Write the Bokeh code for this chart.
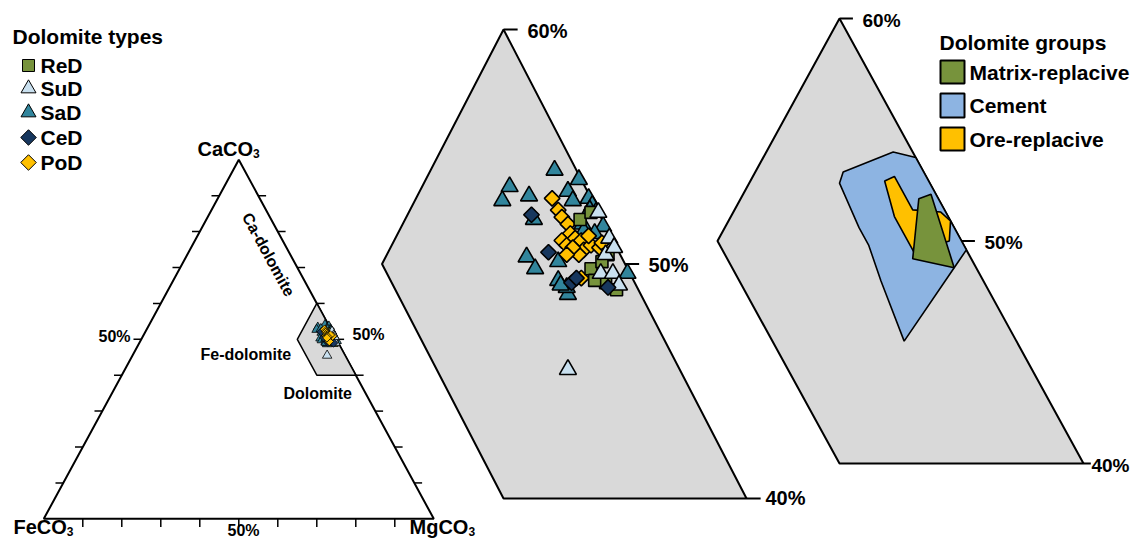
import math
from bokeh.plotting import figure
from bokeh.models import Range1d
from bokeh.core.properties import value
from bokeh.embed import file_html
from bokeh.resources import INLINE

# ---------------- data: compositions in % (CaCO3, MgCO3; FeCO3 = 100 - Ca - Mg)
type_names = ["ReD", "SuD", "SaD", "CeD", "PoD"]
red_ca = [51.9, 52.2, 49.8, 50.4, 49.2, 48.9, 49.3, 50.1]
red_mg = [47.2, 47.5, 48.7, 49.1, 49.6, 50.2, 49.1, 49.0]
sud_ca = [52.2, 51.1, 50.4, 49.6, 49.6, 49.1, 45.5, 50.7]
sud_mg = [47.8, 48.8, 49.0, 49.2, 49.7, 50.2, 49.9, 49.2]
sad_ca = [54.0, 53.3, 52.7, 52.9, 53.1, 53.6, 52.7, 52.8, 52.5, 52.2, 51.9, 50.3,
          49.8, 50.1, 49.3, 48.7, 51.7, 52.3, 51.6, 49.6, 49.0, 51.4, 51.3, 49.1]
sad_mg = [45.1, 43.6, 43.6, 44.6, 46.1, 46.3, 46.5, 47.1, 47.4, 47.7, 45.3, 45.8,
          46.4, 47.2, 47.6, 48.3, 47.4, 47.4, 48.3, 50.3, 48.1, 47.6, 48.1, 47.8]
ced_ca = [52.1, 50.5, 49.2, 49.0, 49.4]
ced_mg = [45.1, 46.6, 48.2, 49.8, 48.3]
pod_ca = [52.8, 52.3, 52.0, 51.7, 51.3, 51.0, 50.8, 51.1, 51.0, 50.6, 50.4, 50.8,
          50.7, 50.9, 49.4, 51.2, 50.7, 50.4]
pod_mg = [45.6, 46.1, 46.4, 46.8, 47.1, 46.9, 47.2, 47.4, 47.7, 48.0, 47.9, 48.2,
          48.6, 48.6, 48.5, 47.9, 47.5, 47.4]

group_names = ["Matrix-replacive", "Cement", "Ore-replacive"]
matrix_ca = [51.9, 52.1, 48.8, 49.2]
matrix_mg = [47.3, 47.7, 50.3, 48.4]
cement_ca = [53.1, 54.0, 53.75, 49.6, 48.8, 45.5, 48.2, 49.8, 50.6, 52.6]
cement_mg = [43.6, 45.2, 46.25, 50.4, 50.3, 49.9, 47.6, 46.3, 45.5, 43.7]
ore_ca = [52.7, 52.9, 51.4, 51.3, 50.9, 50.0, 49.5, 51.1]
ore_mg = [45.5, 45.8, 47.3, 48.5, 49.1, 49.5, 48.3, 46.7]

# dolomite field (zoomed area)
field_ca = [60, 50, 40, 40]
field_mg = [40, 40, 50, 60]
edge_ticks = [10, 20, 30, 40, 50, 60, 70, 80, 90]
zoom_ticks = [60, 50, 40]
zoom_tick_labels = ["60%", "50%", "40%"]


def tx(ca, mg):
    return [m + c / 2.0 for c, m in zip(ca, mg)]


def ty(ca):
    return [float(c) for c in ca]


FONT = value("Liberation Sans")
GRAY = "#D9D9D9"
colors = {"ReD": "#77933C", "SuD": "#C9E0EF", "SaD": "#31859C", "CeD": "#17375E", "PoD": "#FFC000"}
markers = {"ReD": ("square", 0.0), "SuD": ("triangle", 0.0), "SaD": ("triangle", 0.0),
           "CeD": ("square", math.pi / 4), "PoD": ("square", math.pi / 4)}
size_big = {"square": 12, "triangle": 17}
size_small = {"square": 6.5, "triangle": 9.5}
diamond_big, diamond_small = 11, 6
series = {"ReD": (red_ca, red_mg), "SuD": (sud_ca, sud_mg), "SaD": (sad_ca, sad_mg),
          "CeD": (ced_ca, ced_mg), "PoD": (pod_ca, pod_mg)}
group_colors = {"Matrix-replacive": "#77933C", "Cement": "#8DB4E2", "Ore-replacive": "#FFC000"}
groups = {"Matrix-replacive": (matrix_ca, matrix_mg), "Cement": (cement_ca, cement_mg),
          "Ore-replacive": (ore_ca, ore_mg)}

p = figure(width=1130, height=540, x_range=Range1d(-11.10, 278.64), y_range=Range1d(-6.04, 144.38),
           output_backend="svg", toolbar_location=None, min_border=0,
           x_axis_location=None, y_axis_location=None)
p.grid.visible = False
p.outline_line_color = None
p.background_fill_color = "white"
p.border_fill_color = "white"
p.extra_x_ranges = {"mid": Range1d(49.30, 95.80), "rt": Range1d(35.615, 81.926), "px": Range1d(0, 1130)}
p.extra_y_ranges = {"mid": Range1d(38.209, 61.237), "rt": Range1d(36.539, 60.809), "px": Range1d(540, 0)}

# ---------------- left: full ternary
p.patch(tx([100, 0, 0], [0, 0, 100]), ty([100, 0, 0]), fill_color=None, line_color="black", line_width=2)
p.patch(tx(field_ca, field_mg), ty(field_ca), fill_color=GRAY, line_color="black", line_width=1.5)
bx = tx([0] * 9, edge_ticks)
p.segment(x0=bx, y0=[0] * 9, x1=bx, y1=[-2.3] * 9, line_color="black", line_width=1.5)
lx = tx(edge_ticks, [0] * 9)
p.segment(x0=lx, y0=ty(edge_ticks), x1=[v - 2.0 for v in lx], y1=ty(edge_ticks), line_color="black", line_width=1.5)
rx = tx(edge_ticks, [100 - c for c in edge_ticks])
p.segment(x0=rx, y0=ty(edge_ticks), x1=[v + 2.0 for v in rx], y1=ty(edge_ticks), line_color="black", line_width=1.5)

order_left = ["SaD", "ReD", "SuD", "CeD", "PoD"]
for name in order_left:
    ca, mg = series[name]
    mk, ang = markers[name]
    sz = diamond_small if ang else size_small[mk]
    p.scatter(tx(ca, mg), ty(ca), marker=mk, angle=ang, size=sz, fill_color=colors[name],
              line_color="black", line_width=0.8)

# ---------------- middle: zoomed field with samples
p.patch(tx(field_ca, field_mg), ty(field_ca), fill_color=GRAY, line_color="black", line_width=2,
        x_range_name="mid", y_range_name="mid")
order_mid = ["SaD", "PoD", "ReD", "SuD", "CeD"]
for name in order_mid:
    ca, mg = series[name]
    mk, ang = markers[name]
    sz = diamond_big if ang else size_big[mk]
    p.scatter(tx(ca, mg), ty(ca), marker=mk, angle=ang, size=sz, fill_color=colors[name],
              line_color="black", line_width=1.6, x_range_name="mid", y_range_name="mid")

# ---------------- right: zoomed field with group envelopes
p.patch(tx(field_ca, field_mg), ty(field_ca), fill_color=GRAY, line_color="black", line_width=2,
        x_range_name="rt", y_range_name="rt")
for name in ["Cement", "Ore-replacive", "Matrix-replacive"]:
    ca, mg = groups[name]
    p.patch(tx(ca, mg), ty(ca), fill_color=group_colors[name], line_color="black", line_width=1.6,
            x_range_name="rt", y_range_name="rt")

# ticks of zoomed panels (on the Ca-Mg edge)
zx = tx(zoom_ticks, [100 - c for c in zoom_ticks])
mid_len = [0.58, 0.58, 0.58]
rt_len = [0.55, 0.55, 0.3]
p.segment(x0=zx, y0=ty(zoom_ticks), x1=[v + d for v, d in zip(zx, mid_len)], y1=ty(zoom_ticks),
          line_color="black", line_width=2, x_range_name="mid", y_range_name="mid")
p.segment(x0=zx, y0=ty(zoom_ticks), x1=[v + d for v, d in zip(zx, rt_len)], y1=ty(zoom_ticks),
          line_color="black", line_width=2, x_range_name="rt", y_range_name="rt")


# ---------------- texts (picture-pixel placement)
def txt(x, y, s, size, align="left", angle=0.0):
    p.text(x=[x], y=[y], text=[s], angle=angle, text_font=FONT, text_font_style="bold",
           text_font_size=f"{size}px", text_align=align, text_baseline="middle",
           text_color="black", x_range_name="px", y_range_name="px")


# left legend
txt(12, 36, "Dolomite  types", 21)
leg_y = [65, 88, 112, 137, 162]
for name, yy in zip(type_names, leg_y):
    mk, ang = markers[name]
    sz = 11 if ang else (12 if mk == "square" else 15)
    p.scatter([28], [yy], marker=mk, angle=ang, size=sz, fill_color=colors[name], line_color="black",
              line_width=1, x_range_name="px", y_range_name="px")
    txt(40, yy, name, 21)

# vertex labels with subscripts
lab_x = [197, 13, 409]
lab_y = [148, 526, 526]
sub_w = {"CaCO": 55.6, "FeCO": 53.3, "MgCO": 58.9}
for name, xx, yy in zip(["CaCO", "FeCO", "MgCO"], lab_x, lab_y):
    txt(xx, yy, name, 20)
    txt(xx + sub_w[name], yy + 5, "3", 12)

txt(130, 336, "50%", 16, align="right")
txt(243, 530, "50%", 16, align="center")
txt(352, 334, "50%", 16)
txt(268, 254, "Ca-dolomite", 16, align="center", angle=-1.072)
txt(200, 354, "Fe-dolomite", 16)
txt(283, 393, "Dolomite", 16)

for s, xx, yy in zip(zoom_tick_labels, [527, 648, 765], [30, 264, 497]):
    txt(xx, yy, s, 20)
for s, xx, yy in zip(zoom_tick_labels, [862, 984, 1129], [20, 242, 465]):
    txt(xx, yy, s, 19, align="right" if xx > 1100 else "left")

# right legend
txt(939, 42, "Dolomite  groups", 21)
box_top = [60, 93, 127]
box_bot = [83, 117, 150]
for name, t, b in zip(group_names, box_top, box_bot):
    p.quad(left=[940], right=[964], top=[t], bottom=[b], fill_color=group_colors[name],
           line_color="black", line_width=2, x_range_name="px", y_range_name="px")
    txt(969, (t + b) / 2.0, name, 21)

open("out.html", "w").write(file_html(p, INLINE))
